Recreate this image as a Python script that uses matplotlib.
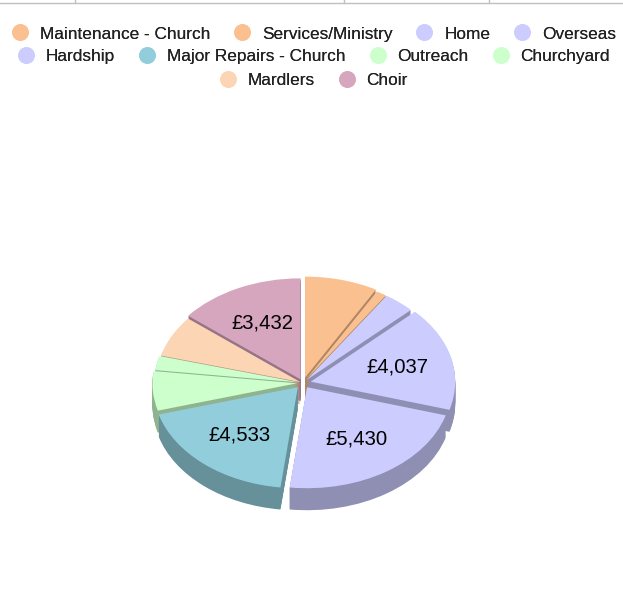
"""Exploded pseudo-3D pie of church spending."""
import numpy as np
import matplotlib

matplotlib.use("Agg")
matplotlib.rcParams["font.family"] = ["Liberation Sans", "DejaVu Sans"]

import matplotlib.pyplot as plt
from matplotlib.colors import to_rgb
from matplotlib.lines import Line2D

categories = ["Maintenance - Church", "Services/Ministry", "Home", "Overseas", "Hardship",
              "Major Repairs - Church", "Outreach", "Churchyard", "Mardlers", "Choir"]
values = [1976, 282, 847, 4037, 5430, 4533, 1526, 551, 1600, 3432]
labelled = ["Overseas", "Hardship", "Major Repairs - Church", "Choir"]
colors = ["#fac090", "#fac090", "#ccccff", "#ccccff", "#ccccff",
          "#92cddc", "#ccffcc", "#ccffcc", "#fcd5b5", "#d6a6bf"]
explode = [0.055, 0.04, 0.04, 0.055, 0.05, 0.055, 0.042, 0.03, 0.02, 0.04]
legend_rows = [categories[:4], categories[4:8], categories[8:]]

W, H = 623, 608
CX, CY = 303, 383      # pie centre in pixels
RX, RY = 144.5, 101    # ellipse radii in pixels
DEPTH = 22             # wall height in pixels
WALL_SHADE = 0.7

fig = plt.figure(figsize=(W / 100, H / 100), dpi=100)
ax = fig.add_axes([0, 0, 1, 1])

# side walls are a stack of darker pies, top face goes on last
shade = [tuple(c * WALL_SHADE for c in to_rgb(col)) for col in colors]
for dy in np.arange(DEPTH, 0, -1.0):
    ax.pie(values, explode=explode, colors=shade, startangle=90, counterclock=False,
           center=(0, -dy / RY), wedgeprops={"linewidth": 0})
wedges, _ = ax.pie(values, explode=explode, colors=colors, startangle=90, counterclock=False,
                   center=(0, 0), wedgeprops={"linewidth": 0})

for wedge, name, val in zip(wedges, categories, values):
    if name not in labelled:
        continue
    mid = np.radians((wedge.theta1 + wedge.theta2) / 2)
    ax.text(wedge.center[0] + 0.62 * np.cos(mid), wedge.center[1] + 0.62 * np.sin(mid),
            f"£{val:,}", ha="center", va="center", fontsize=14.6, color="black")

ax.set_aspect("auto")
ax.set_xlim(-CX / RX, (W - CX) / RX)
ax.set_ylim(-(H - CY) / RY, CY / RY)

# legend rows, each centred on its own
for row, y in zip(legend_rows, [0.9441, 0.9063, 0.8684]):
    handles = [Line2D([], [], linestyle="none", marker="o", markersize=12,
                      markeredgewidth=0, color=colors[categories.index(n)]) for n in row]
    leg = fig.legend(handles, row, ncol=len(row), loc="center", bbox_to_anchor=(0.5, y),
                     frameon=False, fontsize=12.4, columnspacing=1.12, handletextpad=0.39,
                     handlelength=1.5, borderpad=0, labelcolor="#222222")
    fig.add_artist(leg)

# scrap of the table border above the chart
fig.add_artist(Line2D([0, 1], [1 - 2.5 / H] * 2, color="#c0c0c0", linewidth=1))
for x in [75, 344, 489]:
    fig.add_artist(Line2D([x / W] * 2, [1 - 2.5 / H, 1], color="#c0c0c0", linewidth=1))

fig.savefig("out.png", dpi=100)
